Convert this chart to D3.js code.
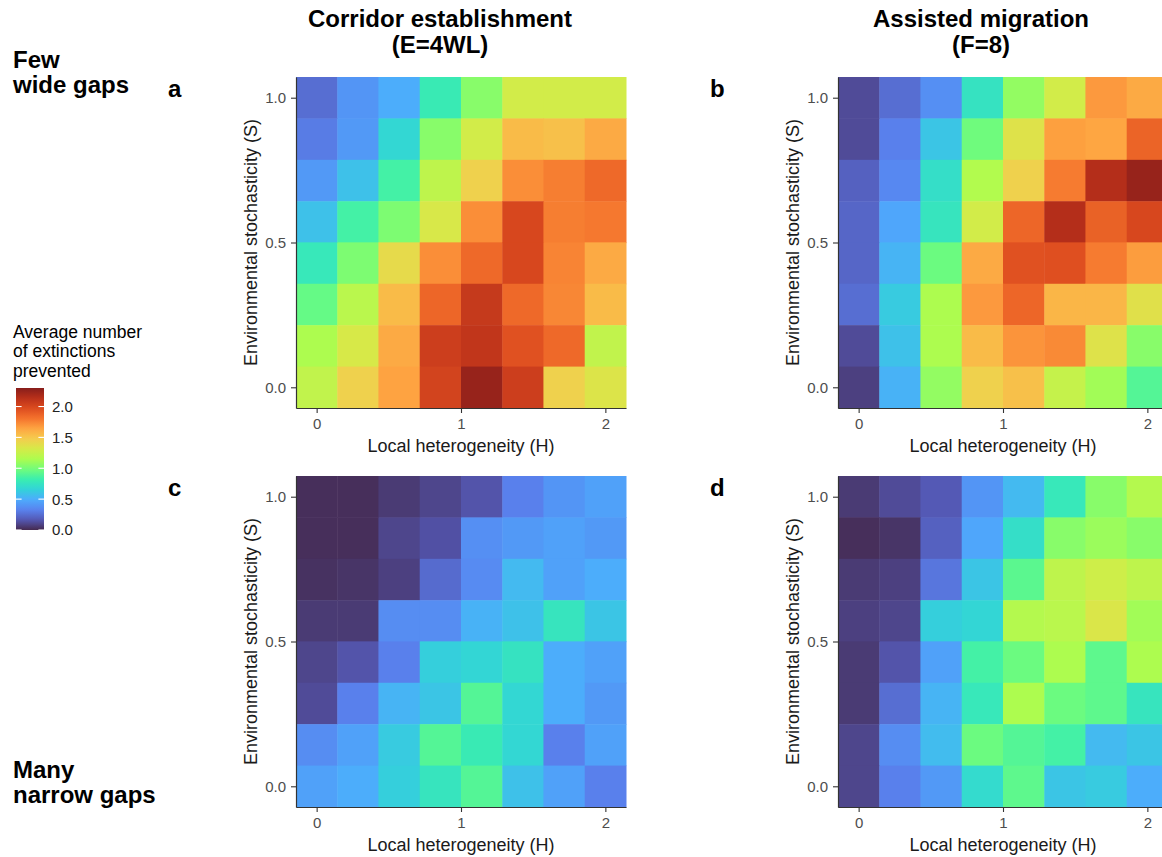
<!DOCTYPE html>
<html>
<head>
<meta charset="utf-8">
<script src="https://cdn.jsdelivr.net/npm/d3@7"></script>
<style>
  body { margin: 0; background: #fff; }
  text { font-family: "Liberation Sans", Arial, sans-serif; }
</style>
</head>
<body>
<script>
// grid levels, rows are written top (S = 1) to bottom (S = 0)
var hLevels = [0, 0.286, 0.571, 0.857, 1.143, 1.429, 1.714, 2];
var sLevels = [1, 0.857, 0.714, 0.571, 0.429, 0.286, 0.143, 0];
var xTicks = [0, 1, 2];
var yTicks = [0, 0.5, 1];
var legendTicks = [0, 0.5, 1, 1.5, 2];

// a: corridor establishment, few wide gaps
var corridorWide = [
  [0.25, 0.40, 0.50, 0.80, 1.05, 1.30, 1.30, 1.30],
  [0.30, 0.42, 0.68, 1.05, 1.30, 1.55, 1.53, 1.62],
  [0.42, 0.58, 0.85, 1.22, 1.45, 1.72, 1.77, 1.85],
  [0.58, 0.85, 1.02, 1.33, 1.72, 2.00, 1.77, 1.79],
  [0.78, 1.02, 1.40, 1.72, 1.85, 2.00, 1.75, 1.62],
  [0.95, 1.20, 1.55, 1.86, 2.08, 1.85, 1.74, 1.55],
  [1.15, 1.32, 1.62, 2.05, 2.10, 1.95, 1.85, 1.23],
  [1.23, 1.45, 1.65, 2.02, 2.25, 2.05, 1.45, 1.35]
];
// b: assisted migration, few wide gaps
var assistedWide = [
  [0.12, 0.25, 0.38, 0.75, 1.08, 1.30, 1.68, 1.62],
  [0.12, 0.32, 0.60, 0.98, 1.36, 1.66, 1.64, 1.87],
  [0.20, 0.35, 0.72, 1.17, 1.45, 1.78, 2.15, 2.25],
  [0.22, 0.47, 0.76, 1.30, 1.86, 2.15, 1.88, 2.00],
  [0.22, 0.53, 0.97, 1.62, 1.95, 1.96, 1.78, 1.67],
  [0.25, 0.62, 1.15, 1.68, 1.86, 1.57, 1.57, 1.37],
  [0.12, 0.58, 1.15, 1.55, 1.70, 1.73, 1.36, 1.05],
  [0.08, 0.52, 1.08, 1.45, 1.53, 1.25, 1.12, 0.90]
];
// c: corridor establishment, many narrow gaps
var corridorNarrow = [
  [0.02, 0.02, 0.06, 0.10, 0.15, 0.32, 0.40, 0.45],
  [0.02, 0.02, 0.10, 0.14, 0.38, 0.42, 0.45, 0.42],
  [0.03, 0.04, 0.08, 0.24, 0.36, 0.55, 0.45, 0.50],
  [0.06, 0.06, 0.37, 0.37, 0.52, 0.58, 0.76, 0.60],
  [0.10, 0.15, 0.32, 0.64, 0.67, 0.75, 0.50, 0.45],
  [0.12, 0.32, 0.53, 0.60, 0.90, 0.68, 0.50, 0.42],
  [0.37, 0.45, 0.62, 0.90, 0.80, 0.68, 0.32, 0.45],
  [0.45, 0.50, 0.64, 0.76, 0.90, 0.58, 0.45, 0.32]
];
// d: assisted migration, many narrow gaps
var assistedNarrow = [
  [0.06, 0.12, 0.17, 0.40, 0.55, 0.78, 1.05, 1.18],
  [0.02, 0.04, 0.20, 0.47, 0.72, 1.05, 1.10, 1.05],
  [0.06, 0.08, 0.28, 0.60, 0.92, 1.22, 1.28, 1.22],
  [0.08, 0.10, 0.64, 0.67, 1.18, 1.20, 1.34, 1.12],
  [0.06, 0.15, 0.45, 0.85, 0.97, 1.15, 0.93, 1.15],
  [0.06, 0.25, 0.53, 0.78, 1.15, 0.97, 0.93, 0.76],
  [0.10, 0.37, 0.56, 0.97, 0.90, 0.85, 0.55, 0.60],
  [0.10, 0.32, 0.42, 0.70, 0.93, 0.60, 0.62, 0.50]
];

var vMin = 0, vMax = 2.3;
var turbo = ["#30123B", "#4145AB", "#4675ED", "#39A2FC", "#1BCFD4", "#24ECA6", "#61FC6C",
  "#A4FC3B", "#D1E834", "#F3C63A", "#FE9B2D", "#F36315", "#D93806", "#B11901", "#7A0402"];

var color = d3.scaleLinear()
  .domain(turbo.map(function(c, i) { return vMin + (vMax - vMin) * i / (turbo.length - 1); }))
  .range(turbo)
  .interpolate(d3.interpolateRgb)
  .clamp(true);

var tileAlpha = 0.9;
var panelW = 330, panelH = 331;

var svg = d3.select('body').append('svg').attr('width', 1162).attr('height', 857);

function drawPanel(vals, left, top, letter) {
  var hStep = hLevels[1] - hLevels[0];
  var sStep = sLevels[0] - sLevels[1];
  var x = d3.scaleLinear().domain([hLevels[0] - hStep / 2, hLevels[7] + hStep / 2]).range([left, left + panelW]);
  var y = d3.scaleLinear().domain([sLevels[7] - sStep / 2, sLevels[0] + sStep / 2]).range([top + panelH, top]);
  var tw = x(hStep) - x(0), th = y(0) - y(sStep);

  var cells = [];
  vals.forEach(function(row, r) {
    row.forEach(function(v, c) { cells.push({h: hLevels[c], s: sLevels[r], v: v}); });
  });

  var g = svg.append('g');
  // tiles are laid on a white underlay so the slight overlap doesn't double the alpha
  g.append('g').selectAll('rect').data(cells).join('rect')
    .attr('x', function(d) { return x(d.h) - tw / 2; })
    .attr('y', function(d) { return y(d.s) - th / 2; })
    .attr('width', tw + 0.5)
    .attr('height', th + 0.5)
    .attr('fill', function(d) { return d3.interpolateRgb('#fff', color(d.v))(tileAlpha); });

  var xa = g.append('g').attr('transform', 'translate(0,' + (top + panelH) + ')')
    .call(d3.axisBottom(x).tickValues(xTicks).tickFormat(d3.format('d')).tickSize(5).tickSizeOuter(0).tickPadding(5));
  var ya = g.append('g').attr('transform', 'translate(' + left + ',0)')
    .call(d3.axisLeft(y).tickValues(yTicks).tickFormat(d3.format('.1f')).tickSize(5).tickSizeOuter(0).tickPadding(5));
  [xa, ya].forEach(function(a) {
    a.select('.domain').attr('stroke', '#333').attr('stroke-width', 1.2);
    a.selectAll('.tick line').attr('stroke', '#333').attr('stroke-width', 1.1);
    a.selectAll('.tick text').attr('fill', '#4d4d4d').style('font-size', '15px')
      .style('font-family', '"Liberation Sans", Arial, sans-serif');
  });

  g.append('text')
    .attr('x', left + panelW / 2).attr('y', top + panelH + 44)
    .attr('text-anchor', 'middle').style('font-size', '18px').attr('fill', '#1a1a1a')
    .text('Local heterogeneity (H)');
  g.append('text')
    .attr('transform', 'translate(' + (left - 39) + ',' + (top + panelH / 2) + ') rotate(-90)')
    .attr('text-anchor', 'middle').style('font-size', '18px').attr('fill', '#1a1a1a')
    .text('Environmental stochasticity (S)');
  g.append('text')
    .attr('x', left - 128).attr('y', top + 20)
    .style('font-size', '24px').style('font-weight', 'bold').attr('fill', '#000')
    .text(letter);
}

drawPanel(corridorWide, 296, 77, 'a');
drawPanel(assistedWide, 838, 77, 'b');
drawPanel(corridorNarrow, 296, 476, 'c');
drawPanel(assistedNarrow, 838, 476, 'd');

// column titles and row labels
function multiline(lines, x, y0, lh, size, weight, anchor) {
  lines.forEach(function(t, i) {
    svg.append('text').attr('x', x).attr('y', y0 + i * lh)
      .attr('text-anchor', anchor).style('font-size', size).style('font-weight', weight)
      .attr('fill', '#000').text(t);
  });
}
multiline(['Corridor establishment', '(E=4WL)'], 440, 27, 26, '24px', 'bold', 'middle');
multiline(['Assisted migration', '(F=8)'], 981, 27, 26, '24px', 'bold', 'middle');
multiline(['Few', 'wide gaps'], 13, 68, 25, '24px', 'bold', 'start');
multiline(['Many', 'narrow gaps'], 13, 778, 25, '24px', 'bold', 'start');

// legend
multiline(['Average number', 'of extinctions', 'prevented'], 13, 337.5, 19.5, '17.5px', 'normal', 'start');
var ly = d3.scaleLinear().domain([vMin, vMax]).range([530, 388]);
var grad = svg.append('defs').append('linearGradient').attr('id', 'lg')
  .attr('x1', 0).attr('y1', 1).attr('x2', 0).attr('y2', 0);
d3.range(0, 1.0001, 0.02).forEach(function(t) {
  grad.append('stop').attr('offset', t)
    .attr('stop-color', d3.interpolateRgb('#fff', color(vMin + t * (vMax - vMin)))(tileAlpha));
});
svg.append('rect').attr('x', 16).attr('y', ly(vMax)).attr('width', 28)
  .attr('height', ly(vMin) - ly(vMax)).attr('fill', 'url(#lg)');
var lg = svg.append('g');
lg.selectAll('.tl').data(legendTicks).join('line')
  .attr('x1', 16).attr('x2', 21.6).attr('y1', ly).attr('y2', ly).attr('stroke', '#fff').attr('stroke-width', 1.1);
lg.selectAll('.tr').data(legendTicks).join('line')
  .attr('x1', 38.4).attr('x2', 44).attr('y1', ly).attr('y2', ly).attr('stroke', '#fff').attr('stroke-width', 1.1);
lg.selectAll('text').data(legendTicks).join('text')
  .attr('x', 52).attr('y', ly).attr('dy', '0.36em')
  .style('font-size', '15px').attr('fill', '#222')
  .text(d3.format('.1f'));
</script>
</body>
</html>
